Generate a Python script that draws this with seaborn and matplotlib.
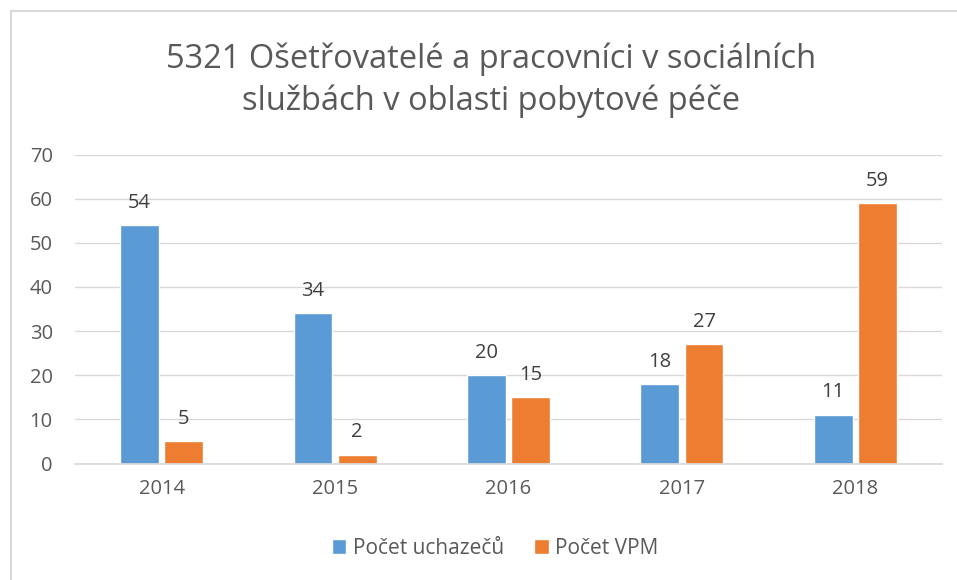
#!/usr/bin/env python3

import pandas as pd
from matplotlib import pyplot as plt
from matplotlib.lines import Line2D
import seaborn as sns


years = ["2014", "2015", "2016", "2017", "2018"]
uchazeci = [54, 34, 20, 18, 11]
vpm = [5, 2, 15, 27, 59]
series_names = ["Počet uchazečů", "Počet VPM"]
title = "5321 Ošetřovatelé a pracovníci v sociálních\nslužbách v oblasti pobytové péče"
text_color = "#595959"


def gen_fig():
    df = pd.DataFrame({
        "Rok": years * 2,
        "Hodnota": uchazeci + vpm,
        "Série": [series_names[0]] * len(years) + [series_names[1]] * len(years),
    })

    sns.set_theme(style="white")
    plt.rcParams["font.family"] = ["Open Sans", "DejaVu Sans"]

    fig = plt.figure(figsize=(9.57, 5.8), dpi=100)
    ax = fig.add_axes([75 / 957, 1 - 463.5 / 580, 867 / 957, 309 / 580])

    sns.barplot(
        data=df, x="Rok", y="Hodnota", hue="Série",
        palette=["#5b9bd5", "#ed7d31"], width=0.51, gap=0.12,
        saturation=1, ax=ax,
    )
    for cont in ax.containers:
        ax.bar_label(cont, padding=9, fontsize=14.5, color="#404040")

    ax.set_ylim(0, 70)
    ax.set_yticks(range(0, 71, 10))
    ax.set_xlim(-0.5, 4.5)
    ax.yaxis.grid(True, color="#d9d9d9", linewidth=1)
    ax.set_axisbelow(True)
    ax.set_xlabel("")
    ax.set_ylabel("")
    for side in ["top", "right", "left"]:
        ax.spines[side].set_visible(False)
    ax.spines["bottom"].set_color("#d9d9d9")
    ax.tick_params(axis="both", colors=text_color, labelsize=14.5, length=0)
    ax.tick_params(axis="x", pad=11)
    ax.tick_params(axis="y", pad=16)

    handles, labels = ax.get_legend_handles_labels()
    ax.get_legend().remove()
    fig.legend(
        handles, labels, loc="center", bbox_to_anchor=(495 / 957, 1 - 548 / 580), ncol=2,
        frameon=False, fontsize=15, labelcolor=text_color,
        handlelength=0.7, handleheight=0.7, handletextpad=0.3, columnspacing=1.45,
    )

    fig.text(491.5 / 957, 1 - 80.5 / 580, title, ha="center", va="center", fontsize=23.5,
             color=text_color, linespacing=1.35)

    fig.add_artist(Line2D([11 / 957, 1], [1 - 10.5 / 580] * 2,
                          transform=fig.transFigure, color="#d9d9d9", lw=1.5))
    fig.add_artist(Line2D([11 / 957] * 2, [0, 1 - 10.5 / 580],
                          transform=fig.transFigure, color="#d9d9d9", lw=1.5))

    fig.savefig("out.png", dpi=100)


if __name__ == "__main__":
    gen_fig()
